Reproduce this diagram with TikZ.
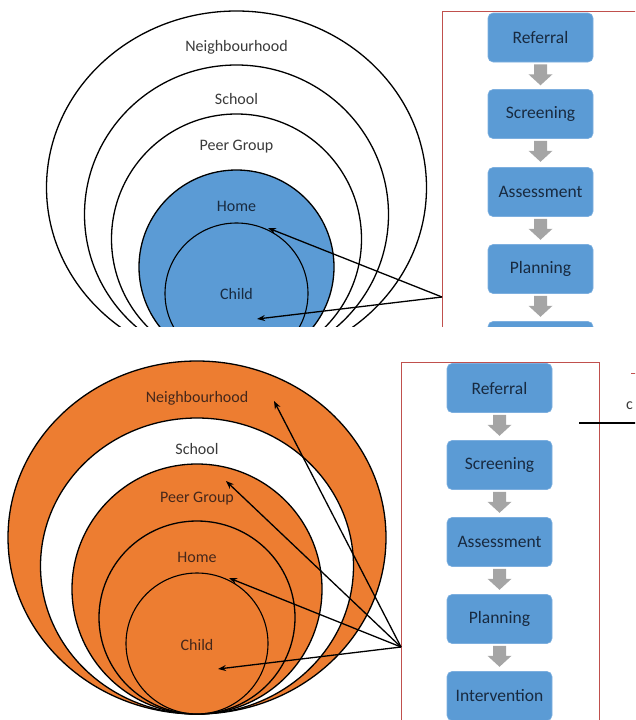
\documentclass[tikz,border=0pt]{standalone}
\usepackage{fontspec}
\setmainfont{Carlito}
\usetikzlibrary{shapes.geometric,arrows.meta,calc}
\definecolor{blueF}{HTML}{5B9BD5}
\definecolor{blueB}{HTML}{7DAFDF}
\definecolor{orangeF}{HTML}{ED7D31}
\definecolor{redL}{HTML}{C0504D}
\definecolor{arrowgray}{HTML}{A5A5A5}
\definecolor{txtGray}{HTML}{3A3A3A}
\definecolor{txtNavy}{HTML}{182A40}
\definecolor{txtBrown}{HTML}{45271A}
\newcommand{\dnarrow}[1]{\fill[arrowgray] ([shift={(-6.5,2)}]#1.south) -- ++(13,0) -- ++(0,10) -- ++(5.5,0) -- ++(-12,11) -- ++(-12,-11) -- ++(5.5,0) -- cycle;}
\tikzset{
  ring/.style={ellipse, draw=black, line width=1.3pt, inner sep=0pt, outer sep=0pt},
  lbl/.style={font=\fontsize{16}{19}\selectfont, inner sep=0pt},
  stepbox/.style={rectangle, rounded corners=5pt, fill=blueF, draw=blueB, line width=0.6pt,
    minimum width=105pt, minimum height=49pt, inner sep=0pt,
    font=\fontsize{17.5}{21}\selectfont, text=txtNavy},
  redbox/.style={draw=redL, line width=1pt},
  ptr/.style={draw=black, line width=1.3pt, -{Stealth[length=8pt,width=6pt]}}
}
\begin{document}
\begin{tikzpicture}[x=1pt,y=-1pt]
\useasboundingbox (0,0) rectangle (635,720);
\begin{scope}
\clip (0,0) rectangle (635,720);
% ===== top panel =====
\begin{scope}
\clip (0,0) rectangle (635,326);
\node[ring, fill=white, minimum width=380pt, minimum height=353pt] (nbT) at (236.5,187.5) {};
\node[ring, fill=white, minimum width=304pt, minimum height=299pt] (scT) at (236.5,214.5) {};
\node[ring, fill=white, minimum width=250pt, minimum height=250pt] (pgT) at (236.5,239) {};
\node[ring, fill=blueF, minimum width=195pt, minimum height=194pt] (hmT) at (236.5,267) {};
\node[ring, line width=1.1pt, minimum width=143pt, minimum height=141pt] (chT) at (236.5,293.5) {};
\node[lbl, text=txtGray] (lnbT) at (236.5,47) {Neighbourhood};
\node[lbl, text=txtGray] (lscT) at (236.5,99) {School};
\node[lbl, text=txtGray] (lpgT) at (236.5,147) {Peer Group};
\node[lbl, text=txtNavy] (lhmT) at (236.5,206) {Home};
\node[lbl, text=txtNavy] (lchT) at (236.5,294) {Child};
\draw[redbox] (442,11) rectangle (660,360);
\node[stepbox] (t1) at (540.5,37.5) {Referral};
\node[stepbox] (t2) at (540.5,114) {Screening};
\node[stepbox] (t3) at (540.5,192) {Assessment};
\node[stepbox] (t4) at (540.5,269) {Planning};
\node[stepbox] (t5) at (540.5,346) {};
\dnarrow{t1}\dnarrow{t2}\dnarrow{t3}\dnarrow{t4}
\coordinate (srcT) at (442,297);
\coordinate (tipHmT) at (268,228);
\coordinate (tipChT) at (257,319);
\draw[ptr] (srcT) -- (tipHmT);
\draw[ptr] (srcT) -- (tipChT);
\end{scope}
% ===== bottom panel =====
\node[ring, fill=orangeF, minimum width=378pt, minimum height=353pt] (nbB) at (197,537.5) {};
\node[ring, fill=white, minimum width=313pt, minimum height=296pt] (scB) at (197,566) {};
\node[ring, fill=orangeF, minimum width=250pt, minimum height=250pt] (pgB) at (197,589) {};
\node[ring, fill=orangeF, minimum width=196pt, minimum height=193pt] (hmB) at (197,617.5) {};
\node[ring, line width=1.1pt, minimum width=142pt, minimum height=141pt] (chB) at (197,643.5) {};
\node[lbl, text=txtBrown] (lnbB) at (197,398) {Neighbourhood};
\node[lbl, text=txtGray] (lscB) at (197,449) {School};
\node[lbl, text=txtBrown] (lpgB) at (197,499) {Peer Group};
\node[lbl, text=txtBrown] (lhmB) at (197,557) {Home};
\node[lbl, text=txtBrown] (lchB) at (197,645) {Child};
\draw[redbox] (401,362) rectangle (599,740);
\node[stepbox] (b1) at (499.5,388) {Referral};
\node[stepbox] (b2) at (499.5,465) {Screening};
\node[stepbox] (b3) at (499.5,542) {Assessment};
\node[stepbox] (b4) at (499.5,619) {Planning};
\node[stepbox] (b5) at (499.5,696) {Intervention};
\dnarrow{b1}\dnarrow{b2}\dnarrow{b3}\dnarrow{b4}
\coordinate (srcB) at (401,647);
\coordinate (tipNbB) at (274,401);
\coordinate (tipPgB) at (226,481);
\coordinate (tipHmB) at (229,578);
\coordinate (tipChB) at (218,669);
\draw[ptr] (srcB) -- (tipNbB);
\draw[ptr] (srcB) -- (tipPgB);
\draw[ptr] (srcB) -- (tipHmB);
\draw[ptr] (srcB) -- (tipChB);
% fragments at right edge
\coordinate (redA) at (631,373);
\coordinate (redZ) at (640,373);
\draw[redL, line width=1pt] (redA) -- (redZ);
\node[lbl, text=txtGray, anchor=west] (frag) at (626,406) {c};
\coordinate (blkA) at (579,423);
\coordinate (blkZ) at (640,423);
\draw[black, line width=1.3pt] (blkA) -- (blkZ);
\end{scope}
\end{tikzpicture}
\end{document}
